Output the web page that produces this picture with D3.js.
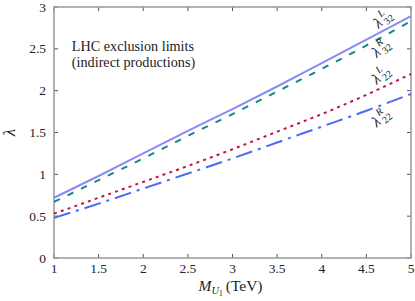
<!DOCTYPE html>
<html>
<head>
<meta charset="utf-8">
<script src="https://cdn.jsdelivr.net/npm/d3@7"></script>
<style>
  body { margin: 0; background: #fff; }
  svg { display: block; font-family: "Liberation Serif", "DejaVu Serif", serif; }
</style>
</head>
<body>
<svg id="chart" width="415" height="301"></svg>
<script>
// leptoquark mass grid (TeV) and the coupling limits
const massTeV = [1, 1.5, 2, 2.5, 3, 3.5, 4, 4.5, 5];
const lam32L = [0.72, 0.98, 1.25, 1.52, 1.78, 2.05, 2.33, 2.61, 2.89];
const lam32R = [0.67, 0.93, 1.19, 1.46, 1.72, 1.99, 2.26, 2.54, 2.83];
const lam22L = [0.53, 0.72, 0.91, 1.10, 1.30, 1.51, 1.72, 1.95, 2.20];
const lam22R = [0.48, 0.65, 0.83, 1.01, 1.19, 1.38, 1.57, 1.76, 1.96];

const xTicks = [1, 1.5, 2, 2.5, 3, 3.5, 4, 4.5, 5];
const yTicks = [0, 0.5, 1, 1.5, 2, 2.5, 3];

// curve labels: chirality, flavour indices, anchor in data units
const labelChir = ["L", "R", "L", "R"];
const labelIdx = ["32", "32", "22", "22"];
const labelX = [4.66, 4.64, 4.64, 4.64];
const labelY = [2.84, 2.49, 2.17, 1.66];

const svg = d3.select("#chart");
const margin = { top: 7, right: 4, bottom: 43, left: 54 };
const W = 415 - margin.left - margin.right;
const H = 301 - margin.top - margin.bottom;

const x = d3.scaleLinear().domain([1, 5]).range([0, W]);
const y = d3.scaleLinear().domain([0, 3]).range([H, 0]);

const g = svg.append("g").attr("transform", `translate(${margin.left},${margin.top})`);

// ticks on all four sides, pointing inwards
const tickLen = 4;
const axisColor = "#555";
const ticks = g.append("g").attr("class", "ticks");
ticks.selectAll("line.xb").data(xTicks).enter().append("line")
  .attr("x1", d => x(d)).attr("x2", d => x(d))
  .attr("y1", H).attr("y2", H - tickLen);
ticks.selectAll("line.xt").data(xTicks).enter().append("line")
  .attr("x1", d => x(d)).attr("x2", d => x(d))
  .attr("y1", 0).attr("y2", tickLen);
ticks.selectAll("line.yl").data(yTicks).enter().append("line")
  .attr("x1", 0).attr("x2", tickLen)
  .attr("y1", d => y(d)).attr("y2", d => y(d));
ticks.selectAll("line.yr").data(yTicks).enter().append("line")
  .attr("x1", W).attr("x2", W - tickLen)
  .attr("y1", d => y(d)).attr("y2", d => y(d));
ticks.selectAll("line").attr("stroke", axisColor).attr("stroke-width", 1);

// frame
g.append("rect")
  .attr("width", W).attr("height", H)
  .attr("fill", "none").attr("stroke", "#999").attr("stroke-width", 1.5);

// tick labels
g.selectAll("text.xl").data(xTicks).enter().append("text")
  .attr("x", d => x(d)).attr("y", H + 15)
  .attr("text-anchor", "middle").attr("font-size", 13.5).attr("fill", "#222")
  .text(d => d);
g.selectAll("text.yl").data(yTicks).enter().append("text")
  .attr("x", -8).attr("y", d => y(d) + 4.5)
  .attr("text-anchor", "end").attr("font-size", 13.5).attr("fill", "#222")
  .text(d => d);

// axis titles
const xt = g.append("text")
  .attr("x", W / 2 - 2).attr("y", H + 33)
  .attr("text-anchor", "middle").attr("font-size", 15.5).attr("fill", "#222");
xt.append("tspan").attr("font-style", "italic").text("M");
xt.append("tspan").attr("font-style", "italic").attr("font-size", 10.5).attr("dy", 3).text("U");
xt.append("tspan").attr("font-size", 7.5).attr("dy", 2).text("1");
xt.append("tspan").attr("dy", -5).attr("dx", 3).text("(TeV)");

svg.append("text")
  .attr("transform", `translate(15,${margin.top + y(1.5)}) rotate(-90)`)
  .attr("text-anchor", "middle").attr("font-size", 17).attr("fill", "#222")
  .attr("font-style", "italic")
  .text("λ");

// annotation
const note = g.append("text").attr("font-size", 14.2).attr("fill", "#222");
note.append("tspan").attr("x", x(1.2)).attr("y", y(2.475)).text("LHC exclusion limits");
note.append("tspan").attr("x", x(1.2)).attr("y", y(2.285)).text("(indirect productions)");

// curves
const series = [
  { vals: lam32L, color: "#8a8af6", dash: null },
  { vals: lam32R, color: "#13887c", dash: "6.5,8.5" },
  { vals: lam22L, color: "#c01540", dash: "3,4.2" },
  { vals: lam22R, color: "#4a6af2", dash: "17,6,3,6" }
];
const line = d3.line()
  .x((d, i) => x(massTeV[i]))
  .y(d => y(d))
  .curve(d3.curveMonotoneX);

g.append("g").selectAll("path").data(series).enter().append("path")
  .attr("d", d => line(d.vals))
  .attr("fill", "none")
  .attr("stroke", d => d.color)
  .attr("stroke-width", 2)
  .attr("stroke-dasharray", d => d.dash);

// rotated lambda labels with stacked super/subscripts
const lab = g.append("g").selectAll("g").data(labelChir).enter().append("g")
  .attr("transform", (d, i) => `translate(${x(labelX[i])},${y(labelY[i])}) rotate(-40)`)
  .attr("fill", "#222");
lab.append("text").attr("x", -7).attr("y", 5).attr("font-size", 15).attr("font-style", "italic").text("λ");
lab.append("text").attr("x", 2).attr("y", -2).attr("font-size", 10).attr("font-style", "italic").text(d => d);
lab.append("text").attr("x", 2).attr("y", 8).attr("font-size", 10).text((d, i) => labelIdx[i]);
</script>
</body>
</html>
